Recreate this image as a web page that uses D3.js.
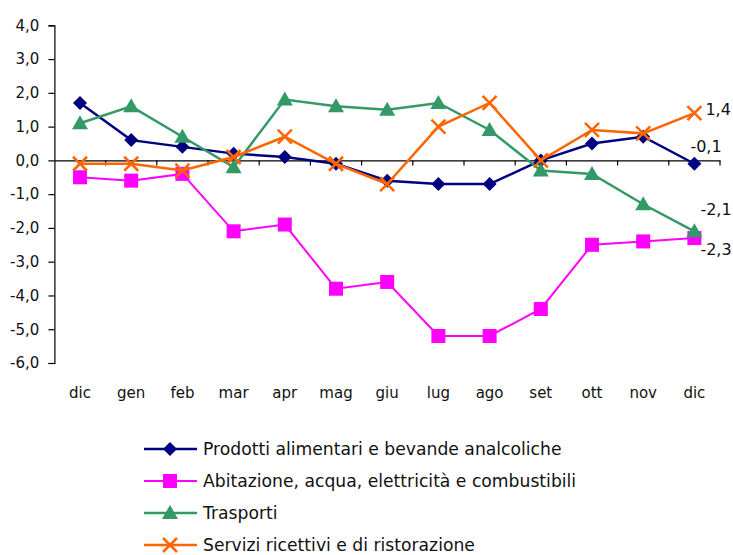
<!DOCTYPE html>
<html><head><meta charset="utf-8">
<script src="https://cdn.jsdelivr.net/npm/d3@7"></script>
<style>body{margin:0;background:#fff}svg{display:block}text{font-family:"DejaVu Sans",sans-serif;fill:#111}</style>
</head><body><svg id="c" width="733" height="555"></svg>
<script>
const categories = ["dic","gen","feb","mar","apr","mag","giu","lug","ago","set","ott","nov","dic"];
const yTicks = [4,3,2,1,0,-1,-2,-3,-4,-5,-6];
const prodotti   = [1.7,0.6,0.4,0.2,0.1,-0.1,-0.6,-0.7,-0.7,0.0,0.5,0.7,-0.1];
const abitazione = [-0.5,-0.6,-0.4,-2.1,-1.9,-3.8,-3.6,-5.2,-5.2,-4.4,-2.5,-2.4,-2.3];
const trasporti  = [1.1,1.6,0.7,-0.2,1.8,1.6,1.5,1.7,0.9,-0.3,-0.4,-1.3,-2.1];
const servizi    = [-0.1,-0.1,-0.3,0.1,0.7,-0.1,-0.7,1.0,1.7,0.0,0.9,0.8,1.4];
const seriesNames = ["Prodotti alimentari e bevande analcoliche","Abitazione, acqua, elettricità e combustibili","Trasporti","Servizi ricettivi e di ristorazione"];

const series = [
  {name:seriesNames[0], values:prodotti, color:"#000080", marker:"diamond", lw:2.5, lab:{dx:-4,dy:-12}},
  {name:seriesNames[1], values:abitazione, color:"#FF00FF", marker:"square", lw:2, lab:{dx:6,dy:17}},
  {name:seriesNames[2], values:trasporti, color:"#339966", marker:"triangle", lw:2.5, lab:{dx:6,dy:-16}},
  {name:seriesNames[3], values:servizi, color:"#FF6600", marker:"x", lw:2.5, lab:{dx:11,dy:2}}
];
const fmt = v => d3.format(".1f")(v).replace(".",",").replace("−","-");

const svg = d3.select("#c");
const x = d3.scaleBand().domain(d3.range(categories.length)).range([54.4,720]);
const y = d3.scaleLinear().domain([-6,4]).range([363,25.3]);
const cx = i => x(i)+x.bandwidth()/2;

// y axis
const ya = svg.append("g").attr("transform","translate(54.4,0)")
  .call(d3.axisLeft(y).tickValues(yTicks).tickSize(6).tickPadding(9).tickFormat(fmt));
ya.select(".domain").attr("stroke","#000").attr("stroke-width",1.2);
ya.selectAll(".tick line").attr("stroke","#000").attr("stroke-width",1.2);
ya.selectAll(".tick text").style("font-size","15px").attr("fill","#111");

// x axis at zero
const xa = svg.append("g").attr("transform",`translate(0,${y(0)})`)
  .call(d3.axisBottom(x).tickSize(0).tickFormat(""));
xa.select(".domain").attr("stroke","#000").attr("stroke-width",1.2);
const bounds = d3.range(1,categories.length+1).map(i=>x(0)+i*x.step());
svg.append("g").selectAll("line").data(bounds).join("line")
  .attr("x1",d=>d).attr("x2",d=>d).attr("y1",y(0)).attr("y2",y(0)+5)
  .attr("stroke","#000").attr("stroke-width",1.2);

// x labels
svg.append("g").selectAll("text").data(categories).join("text")
  .attr("x",(d,i)=>cx(i)).attr("y",398).attr("text-anchor","middle")
  .style("font-size","15px").text(d=>d);

function drawMarker(g, type, color, px, py){
  if(type==="diamond"){
    g.append("path").attr("d",`M${px},${py-7}L${px+7},${py}L${px},${py+7}L${px-7},${py}Z`).attr("fill",color);
  } else if(type==="square"){
    g.append("rect").attr("x",px-7).attr("y",py-7).attr("width",14).attr("height",14).attr("fill",color);
  } else if(type==="triangle"){
    g.append("path").attr("d",`M${px},${py-8}L${px+8},${py+6}L${px-8},${py+6}Z`).attr("fill",color);
  } else {
    g.append("path").attr("d",`M${px-7},${py-7}L${px+7},${py+7}M${px+7},${py-7}L${px-7},${py+7}`).attr("stroke",color).attr("stroke-width",2.5).attr("fill","none");
  }
}

const line = d3.line().x((d,i)=>cx(i)).y(d=>y(d));
series.forEach(s=>{
  const g = svg.append("g");
  g.append("path").attr("d",line(s.values)).attr("fill","none").attr("stroke",s.color).attr("stroke-width",s.lw);
  s.values.forEach((v,i)=>drawMarker(g,s.marker,s.color,cx(i),y(v)));
  const li = s.values.length-1;
  svg.append("text").attr("x",cx(li)+s.lab.dx).attr("y",y(s.values[li])+s.lab.dy)
    .style("font-size","16px").text(fmt(s.values[li]));
});

// legend
const lg = svg.append("g");
series.forEach((s,k)=>{
  const ly = 449 + k*32;
  const g = lg.append("g");
  g.append("line").attr("x1",144).attr("x2",197).attr("y1",ly).attr("y2",ly).attr("stroke",s.color).attr("stroke-width",s.lw);
  drawMarker(g,s.marker,s.color,170,ly);
  g.append("text").attr("x",203).attr("y",ly+6).style("font-size","17.2px").text(s.name);
});
</script></body></html>
